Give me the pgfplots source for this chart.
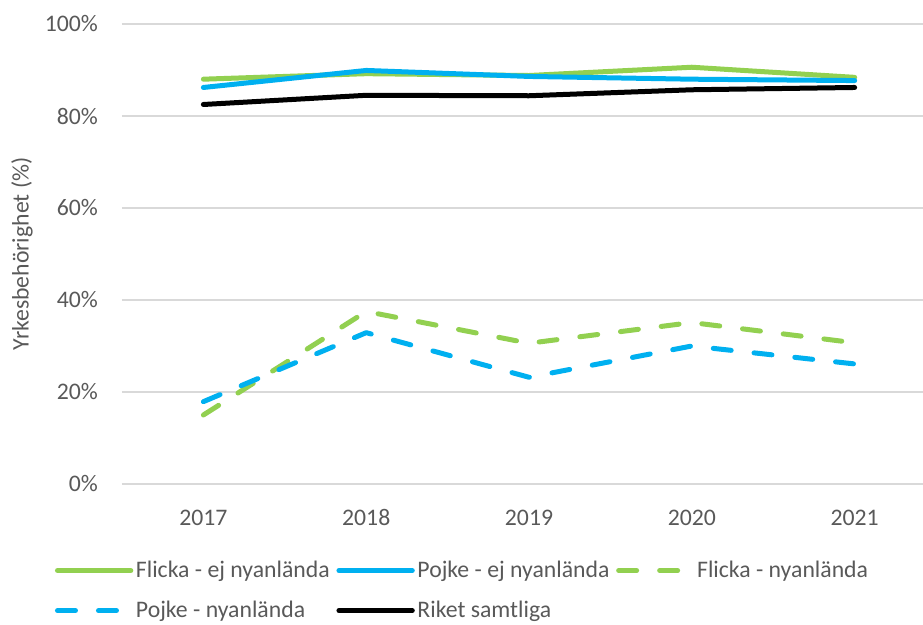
\documentclass[border=0pt]{standalone}
\usepackage{fontspec}
\setmainfont{Carlito}
\usepackage{pgfplots}
\pgfplotsset{compat=1.18}
\definecolor{cgreen}{HTML}{92D050}
\definecolor{cblue}{HTML}{00B0F0}
\definecolor{ctext}{HTML}{595959}
\definecolor{cgrid}{HTML}{D9D9D9}
\begin{document}
\fontsize{17.8}{21}\selectfont
\begin{tikzpicture}
\useasboundingbox (-91.5pt,-105pt) rectangle (600.75pt,363pt);
\begin{axis}[
  scale only axis,
  width=600.75pt, height=345pt,
  xmin=2016.5, xmax=2021.42,
  ymin=0, ymax=100,
  axis line style={draw=none},
  major tick length=0pt,
  xtick={2017,2018,2019,2020,2021},
  xticklabels={2017,2018,2019,2020,2021},
  ytick={0,20,40,60,80,100},
  yticklabel={\pgfmathprintnumber{\tick}\%},
  /pgf/number format/assume math mode=true,
  ymajorgrids,
  grid style={cgrid, line width=0.9pt},
  tick label style={font=\fontsize{17.8}{21}\selectfont, text=ctext},
  yticklabel style={xshift=-12pt},
  xticklabel style={anchor=base, yshift=-31pt},
  ylabel={Yrkesbehörighet (\%)},
  ylabel style={at={(axis description cs:-0.125,0.5)}, anchor=center, font=\fontsize{17.8}{21}\selectfont, text=ctext},
  legend columns=3,
  legend style={at={(axis description cs:-0.084,-0.16)}, anchor=north west, draw=none, fill=none,
     font=\fontsize{17.8}{21}\selectfont, text=ctext, row sep=11pt,
     /tikz/every even column/.append style={column sep=3pt},
     inner sep=0pt},
  legend cell align=left,
  legend image code/.code={\draw[#1] (0pt,0pt) -- (55pt,0pt);},
  every axis plot/.append style={line width=3.75pt, line cap=round, line join=round},
]
\addplot[cgreen] coordinates {(2017,88.0) (2018,89.2) (2019,88.8) (2020,90.6) (2021,88.4)};
\addlegendentry{Flicka - ej nyanlända}
\addplot[cblue] coordinates {(2017,86.2) (2018,89.9) (2019,88.6) (2020,88.0) (2021,87.7)};
\addlegendentry{Pojke - ej nyanlända}
\addplot[cgreen, dash pattern=on 13.5pt off 17.25pt] coordinates {(2017,15.0) (2018,37.5) (2019,30.6) (2020,35.1) (2021,30.7)};
\addlegendentry{Flicka - nyanlända}
\addplot[cblue, dash pattern=on 13.5pt off 17.25pt] coordinates {(2017,17.9) (2018,32.9) (2019,23.2) (2020,30.0) (2021,26.1)};
\addlegendentry{Pojke - nyanlända}
\addplot[black] coordinates {(2017,82.5) (2018,84.5) (2019,84.4) (2020,85.7) (2021,86.2)};
\addlegendentry{Riket samtliga}
\end{axis}
\end{tikzpicture}
\end{document}
